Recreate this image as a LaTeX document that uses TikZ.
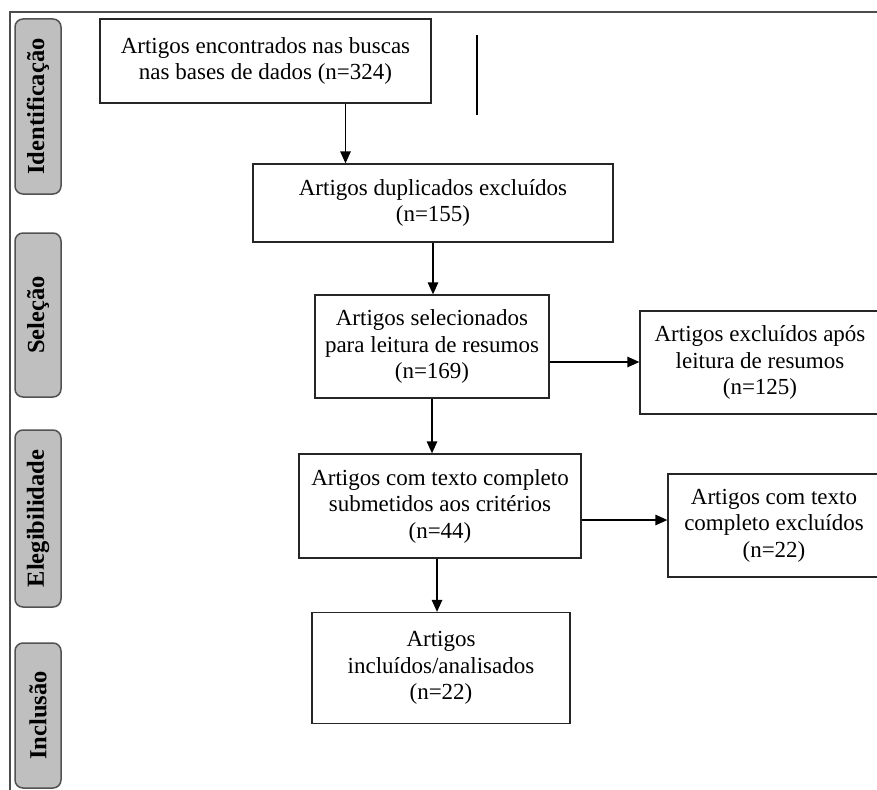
\documentclass[tikz,border=0pt]{standalone}
\usepackage{fontspec}
\setmainfont{Liberation Serif}
\usetikzlibrary{arrows.meta}
\usetikzlibrary{positioning}

\begin{document}
\begin{tikzpicture}[x=1pt,y=-1pt]
\tikzset{etapa/.style={rectangle,draw=black!85,line width=1.3pt,align=center,inner sep=0pt,font=\fontsize{23}{26.5}\selectfont},
fase/.style={rectangle,draw=black!68,fill=black!25,line width=1.5pt,rounded corners=8pt,rotate=90,minimum height=46pt,inner sep=0pt,font=\bfseries\fontsize{24.5}{26}\selectfont},
seta/.style={draw=black,line width=1.3pt,-{Triangle[length=12pt,width=10.5pt]}}}
\useasboundingbox (0,0) rectangle (877,789);
\clip (0,0) rectangle (877,789);
\fill[white] (0,0) rectangle (877,789);
% moldura
\draw[black!70,line width=1.8pt] (877,12) -- (10,12) -- (10,795);
% fases
\node[fase,minimum width=175pt](ident) at (38,106.5){Identificação};
\node[fase,minimum width=164pt](selecao) at (38,315){Seleção};
\node[fase,minimum width=177pt](eleg) at (38,518.5){Elegibilidade};
\node[fase,minimum width=145pt](inclusao) at (38,715.5){Inclusão};
% caixas
\node[etapa,minimum width=331pt,minimum height=84pt](busca) at (265.5,61){Artigos encontrados nas buscas\\nas bases de dados (n=324)};
\node[etapa,minimum width=360pt,minimum height=78pt](duplic) at (433,203){Artigos duplicados excluídos\\(n=155)};
\node[etapa,minimum width=234pt,minimum height=103pt](selec) at (432,346.5){Artigos selecionados\\para leitura de resumos\\(n=169)};
\node[etapa,minimum width=240pt,minimum height=103pt](resexcl) at (760,362.5){Artigos excluídos após\\leitura de resumos\\(n=125)};
\node[etapa,minimum width=282pt,minimum height=104pt](texto) at (440,506){Artigos com texto completo\\submetidos aos critérios\\(n=44)};
\node[etapa,minimum width=212pt,minimum height=103pt](textexcl) at (774,525.5){Artigos com texto\\completo excluídos\\(n=22)};
\node[etapa,minimum width=258pt,minimum height=111pt](incl) at (441,668){Artigos\\incluídos/analisados\\(n=22)};
% marca vertical
\coordinate (marcaA) at (477,35);
\coordinate (marcaB) at (477,115);
\draw[line width=1.5pt] (marcaA) -- (marcaB);
% setas
\draw[seta]([xshift=80pt]busca.south) -- ([xshift=80pt]busca.south |- duplic.north);
\draw[seta](duplic.south) -- (duplic.south |- selec.north);
\draw[seta](selec.south) -- (selec.south |- texto.north);
\draw[seta]([xshift=-3pt]texto.south) -- ([xshift=-3pt]texto.south |- incl.north);
\draw[seta]([yshift=-15.5pt]selec.east) -- ([yshift=-15.5pt]selec.east -| resexcl.west);
\draw[seta]([yshift=-14pt]texto.east) -- ([yshift=-14pt]texto.east -| textexcl.west);
\end{tikzpicture}
\end{document}
